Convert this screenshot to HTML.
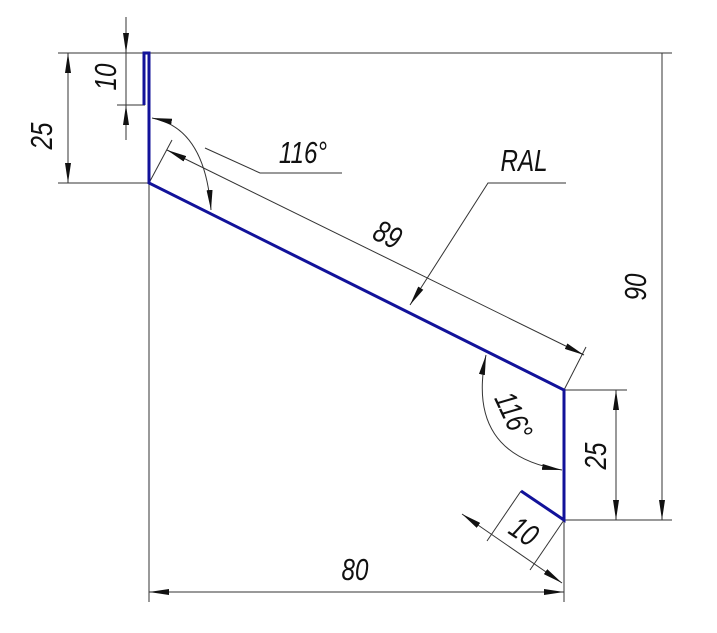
<!DOCTYPE html>
<html><head><meta charset="utf-8"><style>
html,body{margin:0;padding:0;background:#fff;width:717px;height:633px;overflow:hidden}
text{font-family:"Liberation Sans",sans-serif;font-style:italic;font-size:31px;fill:#111}
</style></head><body>
<svg width="717" height="633" viewBox="0 0 717 633" xmlns="http://www.w3.org/2000/svg">
<defs>
<marker id="a" viewBox="0 0 20 6" refX="20" refY="3" markerWidth="20" markerHeight="6" markerUnits="userSpaceOnUse" orient="auto-start-reverse"><path d="M0,0 L20,3 L0,6 Z" fill="#111"/></marker>
</defs>
<g stroke="#333" stroke-width="1" fill="none">
<line x1="58" y1="53" x2="672" y2="53"/>
<line x1="58" y1="183" x2="149" y2="183"/>
<line x1="117" y1="105" x2="145" y2="105"/>
<line x1="149" y1="183" x2="149" y2="602"/>
<line x1="564" y1="520" x2="564" y2="602"/>
<line x1="564" y1="520" x2="672" y2="520"/>
<line x1="564" y1="390" x2="627" y2="390"/>
<line x1="149" y1="183" x2="172" y2="140"/>
<line x1="564" y1="390" x2="586" y2="347"/>
<line x1="521" y1="491" x2="487" y2="541"/>
<line x1="564" y1="520" x2="530" y2="570"/>
<line x1="68" y1="53" x2="68" y2="183" marker-start="url(#a)" marker-end="url(#a)"/>
<line x1="126" y1="17" x2="126" y2="53" marker-end="url(#a)"/>
<line x1="126" y1="53" x2="126" y2="105"/>
<line x1="126" y1="140" x2="126" y2="105" marker-end="url(#a)"/>
<line x1="662" y1="53" x2="662" y2="520" marker-end="url(#a)"/>
<line x1="616" y1="390" x2="616" y2="520" marker-start="url(#a)" marker-end="url(#a)"/>
<line x1="149" y1="592" x2="564" y2="592" marker-start="url(#a)" marker-end="url(#a)"/>
<line x1="167" y1="150" x2="584" y2="355" marker-start="url(#a)" marker-end="url(#a)"/>
<line x1="462" y1="514" x2="562" y2="583" marker-start="url(#a)" marker-end="url(#a)"/>
<polyline points="205,148 260,173 342,173"/>
<polyline points="566,183 488,183 410,305" marker-end="url(#a)"/>
<path d="M152,118 Q205,128 211,210" marker-start="url(#a)" marker-end="url(#a)"/>
<path d="M486,355 Q465,455 562,470" marker-start="url(#a)" marker-end="url(#a)"/>
</g>
<g stroke="#12129a" stroke-width="3" fill="none" stroke-linejoin="miter">
<polyline points="144,105 144,53 149,53 149,183 564,390 564,520 521,491"/>
</g>
<text transform="translate(52,136) rotate(-90) scale(0.78,1)" text-anchor="middle">25</text>
<text transform="translate(116,77) rotate(-90) scale(0.78,1)" text-anchor="middle">10</text>
<text transform="translate(303,163) scale(0.78,1)" text-anchor="middle">116°</text>
<text transform="translate(524,171) scale(0.78,1)" text-anchor="middle">RAL</text>
<text transform="translate(383,244) rotate(26) scale(0.78,1)" text-anchor="middle">89</text>
<text transform="translate(646,287) rotate(-90) scale(0.78,1)" text-anchor="middle">90</text>
<text transform="translate(606,456) rotate(-90) scale(0.78,1)" text-anchor="middle">25</text>
<text transform="translate(504,420) rotate(65) scale(0.78,1)" text-anchor="middle">116°</text>
<text transform="translate(518,540) rotate(34) scale(0.78,1)" text-anchor="middle">10</text>
<text transform="translate(355,580) scale(0.78,1)" text-anchor="middle">80</text>
</svg>
</body></html>
